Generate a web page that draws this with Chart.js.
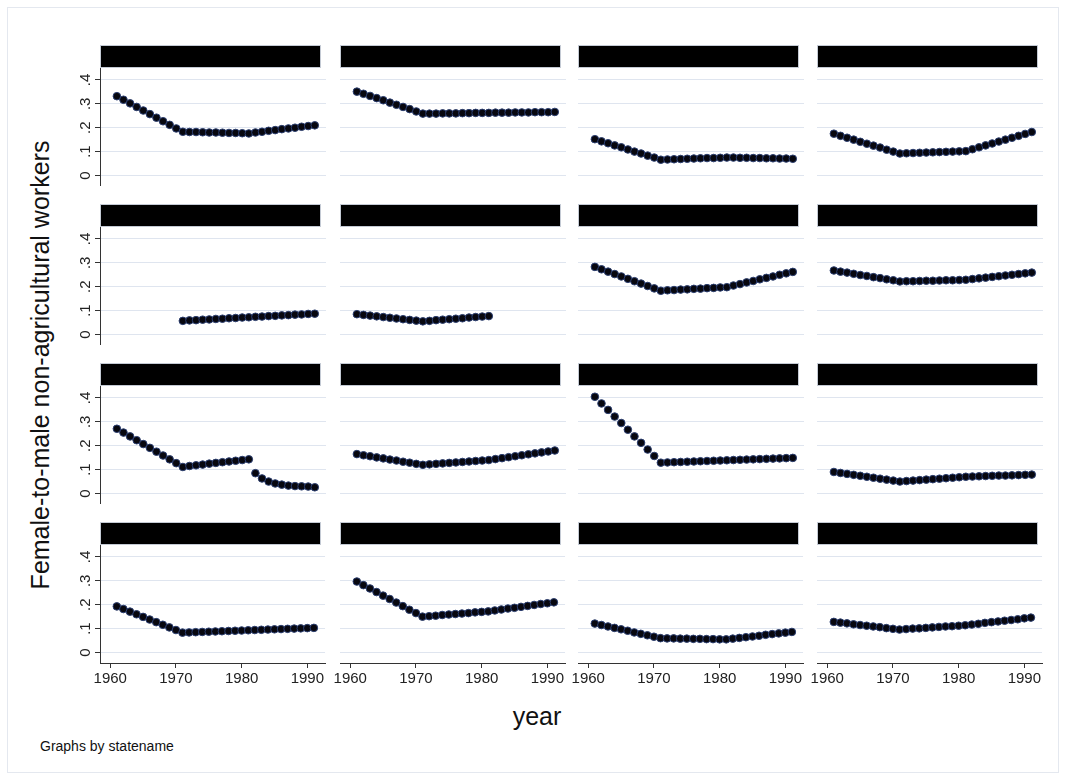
<!DOCTYPE html>
<html>
<head>
<meta charset="utf-8">
<script src="https://cdn.jsdelivr.net/npm/chart.js@4/dist/chart.umd.min.js"></script>
<style>
  body { margin: 0; background: #fff; font-family: "Liberation Sans", Arial, sans-serif; }
  #page { position: relative; width: 1066px; height: 780px; overflow: hidden; }
  .frame { position: absolute; left: 7px; top: 7px; width: 1050px; height: 764px; border: 1px solid #e4e8ef; }
  .strip { position: absolute; height: 21px; width: 219px; background: #000; border: 1px solid #c4cad4; }
  .box { position: absolute; }
  .txt { position: absolute; color: #111; white-space: nowrap; }
</style>
</head>
<body>
<div id="page">
  <div class="frame"></div>
  <div class="txt" id="ytitle" style="font-size:25px; left:40px; top:365px; transform: translate(-50%,-50%) rotate(-90deg);">Female-to-male non-agricultural workers</div>
  <div class="txt" style="font-size:25px; left:537px; top:716px; transform: translate(-50%,-50%);">year</div>
  <div class="txt" style="font-size:14px; left:40px; top:738px;">Graphs by statename</div>
</div>
<script>
// years 1961..1991
const years = [1961, 1962, 1963, 1964, 1965, 1966, 1967, 1968, 1969, 1970,
               1971, 1972, 1973, 1974, 1975, 1976, 1977, 1978, 1979, 1980,
               1981, 1982, 1983, 1984, 1985, 1986, 1987, 1988, 1989, 1990, 1991];
const yTicks = [0, 0.1, 0.2, 0.3, 0.4];
const yTickLabels = ["0", ".1", ".2", ".3", ".4"];
const xTicks = [1960, 1970, 1980, 1990];

// row 1
const p1 = [.332, .317, .302, .287, .272, .257, .242, .227, .212, .197, .183, .182, .182, .181, .180, .180, .179, .178, .178, .177, .176, .180, .183, .187, .190, .194, .197, .200, .204, .207, .210];
const p2 = [.351, .342, .333, .324, .315, .305, .296, .287, .278, .268, .259, .259, .259, .260, .260, .260, .261, .261, .262, .262, .262, .263, .263, .263, .264, .264, .264, .265, .265, .265, .266];
const p3 = [.152, .143, .135, .126, .118, .109, .100, .092, .083, .075, .066, .067, .068, .069, .070, .071, .072, .073, .073, .074, .075, .075, .074, .074, .073, .073, .072, .072, .071, .071, .070];
const p4 = [.175, .166, .158, .150, .141, .133, .125, .117, .108, .100, .092, .093, .094, .095, .096, .097, .098, .099, .100, .101, .102, .110, .118, .126, .134, .142, .150, .158, .166, .174, .182];
// row 2
const p5 = [null, null, null, null, null, null, null, null, null, null, .057, .059, .060, .062, .063, .065, .066, .068, .069, .071, .072, .074, .075, .077, .078, .080, .081, .083, .084, .086, .087];
const p6 = [.085, .082, .079, .076, .073, .070, .067, .064, .061, .058, .055, .057, .060, .062, .064, .066, .068, .071, .073, .075, .077, null, null, null, null, null, null, null, null, null, null];
const p7 = [.283, .273, .263, .253, .243, .233, .223, .213, .203, .193, .183, .185, .186, .188, .189, .191, .192, .194, .195, .197, .198, .205, .211, .218, .224, .231, .237, .243, .250, .256, .262];
const p8 = [.268, .263, .259, .254, .249, .245, .240, .236, .231, .227, .222, .223, .223, .224, .225, .225, .226, .227, .227, .228, .229, .232, .235, .238, .241, .244, .247, .250, .253, .256, .259];
// row 3
const p9 = [.271, .255, .239, .223, .207, .191, .175, .159, .143, .127, .111, .115, .118, .121, .125, .128, .131, .134, .137, .140, .143, .085, .063, .050, .042, .037, .033, .031, .030, .029, .026];
const p10 = [.165, .160, .156, .151, .147, .142, .138, .133, .129, .124, .120, .122, .124, .126, .128, .130, .132, .134, .136, .138, .140, .144, .148, .152, .156, .160, .164, .168, .172, .176, .180];
const p11 = [.405, .377, .350, .322, .295, .267, .239, .212, .184, .157, .129, .130, .131, .132, .133, .134, .135, .136, .137, .138, .139, .140, .141, .142, .143, .144, .145, .146, .147, .148, .149];
const p12 = [.090, .086, .082, .078, .074, .070, .066, .062, .058, .054, .050, .052, .054, .056, .058, .060, .062, .064, .066, .068, .070, .071, .072, .073, .074, .075, .075, .076, .077, .078, .079];
// row 4
const p13 = [.193, .182, .171, .160, .149, .138, .127, .116, .105, .094, .083, .084, .085, .086, .087, .088, .089, .090, .091, .092, .093, .094, .095, .096, .097, .098, .099, .100, .101, .102, .103];
const p14 = [.297, .282, .268, .253, .238, .224, .209, .194, .179, .165, .150, .152, .154, .157, .159, .161, .163, .165, .168, .170, .172, .176, .180, .184, .187, .191, .195, .199, .203, .206, .210];
const p15 = [.121, .115, .109, .103, .097, .091, .084, .078, .072, .066, .060, .059, .059, .058, .058, .057, .057, .056, .056, .055, .055, .058, .061, .064, .067, .070, .074, .077, .080, .083, .086];
const p16 = [.128, .125, .122, .118, .115, .112, .109, .106, .102, .099, .096, .098, .100, .101, .103, .105, .107, .109, .110, .112, .114, .117, .120, .124, .127, .130, .133, .136, .139, .143, .146];

const series = [p1, p2, p3, p4, p5, p6, p7, p8, p9, p10, p11, p12, p13, p14, p15, p16];

// layout
const colX = [100, 339.5, 578, 817];
const rowY = [68, 227, 386, 545];
const PW = 220, PH = 118, L = 30, R = 6, B = 32;
const page = document.getElementById('page');
const fontFam = '"Liberation Sans", Arial, sans-serif';

const yLabels = {
  id: 'yLabels',
  afterDraw(chart, args, opts) {
    if (!opts.show) return;
    const ctx = chart.ctx, sc = chart.scales.y;
    ctx.save();
    ctx.fillStyle = '#222';
    ctx.font = '15px ' + fontFam;
    ctx.textAlign = 'center';
    ctx.textBaseline = 'middle';
    yTicks.forEach((v, k) => {
      ctx.save();
      ctx.translate(chart.chartArea.left - 14, sc.getPixelForValue(v));
      ctx.rotate(-Math.PI / 2);
      ctx.fillText(yTickLabels[k], 0, 0);
      ctx.restore();
    });
    ctx.restore();
  }
};

series.forEach((s, i) => {
  const r = Math.floor(i / 4), c = i % 4;
  const bottom = r === 3, left = c === 0;

  const strip = document.createElement('div');
  strip.className = 'strip';
  strip.style.left = (colX[c]) + 'px';
  strip.style.top = (rowY[r] - 23) + 'px';
  page.appendChild(strip);

  const w = L + PW + R, h = PH + (bottom ? B : 0);
  const box = document.createElement('div');
  box.className = 'box';
  box.style.left = (colX[c] - L) + 'px';
  box.style.top = rowY[r] + 'px';
  const cv = document.createElement('canvas');
  cv.width = w; cv.height = h;
  cv.style.width = w + 'px'; cv.style.height = h + 'px';
  box.appendChild(cv);
  page.appendChild(box);

  new Chart(cv, {
    type: 'scatter',
    data: {
      datasets: [{
        data: years.map((yr, k) => ({ x: yr, y: s[k] })),
        backgroundColor: '#07070f',
        borderColor: '#2b3e70',
        borderWidth: 1,
        pointRadius: 3.8,
        showLine: false
      }]
    },
    options: {
      responsive: false,
      animation: false,
      events: [],
      layout: { padding: 0, autoPadding: false },
      plugins: { legend: { display: false }, tooltip: { enabled: false }, yLabels: { show: left } },
      scales: {
        x: {
          type: 'linear',
          display: bottom,
          min: 1958.44, max: 1992.7,
          afterBuildTicks: sc => { sc.ticks = xTicks.map(v => ({ value: v })); },
          afterFit: sc => { sc.height = bottom ? B : 0; },
          ticks: { color: '#222', font: { family: fontFam, size: 15 }, padding: 2, maxRotation: 0, callback: v => String(v) },
          grid: { drawOnChartArea: false, drawTicks: true, tickLength: 5, tickColor: '#333' },
          border: { display: true, color: '#333', width: 1 }
        },
        y: {
          min: -0.044, max: 0.45,
          afterBuildTicks: sc => { sc.ticks = yTicks.map(v => ({ value: v })); },
          afterFit: sc => { sc.width = L; },
          ticks: { display: false },
          grid: { color: '#dfe5ef', lineWidth: 1, drawTicks: left, tickLength: 5, tickColor: '#333' },
          border: { display: left, color: '#333', width: 1 }
        }
      }
    },
    plugins: [yLabels]
  });
});
</script>
</body>
</html>
